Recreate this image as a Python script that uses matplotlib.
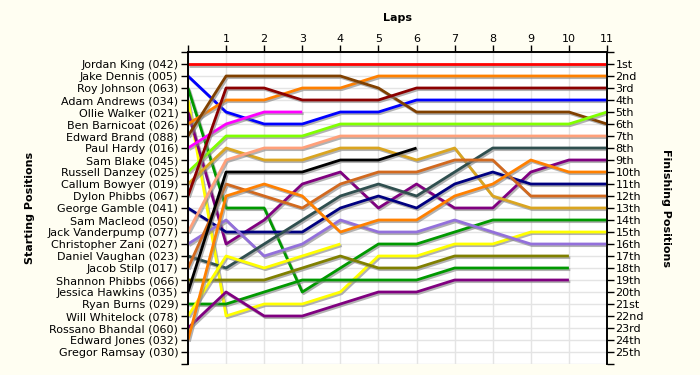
import matplotlib
matplotlib.use('Agg')
import numpy as np
import matplotlib.pyplot as plt
import matplotlib.patheffects as pe

# Grid order (starting positions 1..25)
drivers = ['Jordan King (042)', 'Jake Dennis (005)', 'Roy Johnson (063)', 'Adam Andrews (034)',
           'Ollie Walker (021)', 'Ben Barnicoat (026)', 'Edward Brand (088)', 'Paul Hardy (016)',
           'Sam Blake (045)', 'Russell Danzey (025)', 'Callum Bowyer (019)', 'Dylon Phibbs (067)',
           'George Gamble (041)', 'Sam Macleod (050)', 'Jack Vanderpump (077)', 'Christopher Zani (027)',
           'Daniel Vaughan (023)', 'Jacob Stilp (017)', 'Shannon Phibbs (066)', 'Jessica Hawkins (035)',
           'Ryan Burns (029)', 'Will Whitelock (078)', 'Rossano Bhandal (060)', 'Edward Jones (032)',
           'Gregor Ramsay (030)']

finish_labels = ['1st', '2nd', '3rd', '4th', '5th', '6th', '7th', '8th', '9th', '10th', '11th', '12th',
                 '13th', '14th', '15th', '16th', '17th', '18th', '19th', '20th', '21st', '22nd', '23rd',
                 '24th', '25th']

laps = list(range(0, 12))

# position at each lap (lap 0 = grid), shorter lists = retired / lapped
king = [1, 1, 1, 1, 1, 1, 1, 1, 1, 1, 1, 1]
dennis = [2, 5, 6, 6, 5, 5, 4, 4, 4, 4, 4, 4]
johnson = [3, 13, 13, 20, 18, 16, 16, 15, 14, 14, 14, 14]
andrews = [4, 22, 21, 21, 20, 17, 17, 16, 16, 15, 15, 15]
walker = [5, 16, 14, 11, 10, 13, 11, 13, 13, 10, 9, 9]
barnicoat = [6, 4, 4, 3, 3, 2, 2, 2, 2, 2, 2, 2]
brand = [7, 2, 2, 2, 2, 3, 5, 5, 5, 5, 5, 6]
hardy = [8, 6, 5, 5]
danzey = [10, 7, 7, 7, 6, 6, 6, 6, 6, 6, 6, 5]
bowyer = [11, 8, 9, 9, 8, 8, 9, 8, 12, 13, 13, 13]
dphibbs = [12, 3, 3, 4, 4, 4, 3, 3, 3, 3, 3, 3]
gamble = [13, 15, 15, 15, 13, 12, 13, 11, 10, 11, 11, 11]
vanderpump = [15, 9, 8, 8, 7, 7, 7, 7, 7, 7, 7, 7]
zani = [16, 14, 17, 16, 14, 15, 15, 14, 15, 16, 16, 16]
vaughan = [17, 18, 16, 14, 12, 11, 12, 10, 8, 8, 8, 8]
stilp = [18, 11, 12, 13, 11, 10, 10, 9, 9, 12, 12, 12]
sphibbs = [19, 19, 19, 18, 17, 18, 18, 17, 17, 17, 17]
hawkins = [20, 10, 10, 10, 9, 9, 8]
burns = [21, 21, 20, 19, 19, 19, 19, 18, 18, 18, 18]
whitelock = [22, 17, 18, 17, 16]
bhandal = [23, 20, 22, 22, 21, 20, 20, 19, 19, 19, 19]
jones = [24, 12, 11, 12, 15, 14, 14, 12, 11, 9, 10, 10]

series = [
    (king, '#ff0000'), (dennis, '#0000ff'), (johnson, '#009900'), (andrews, '#ffff00'),
    (walker, '#800080'), (barnicoat, '#ff8000'), (brand, '#804000'), (hardy, '#ff00ff'),
    (danzey, '#80ff00'), (bowyer, '#daa520'), (dphibbs, '#8b0000'), (gamble, '#000080'),
    (vanderpump, '#ffa07a'), (zani, '#9370db'), (vaughan, '#2f4f4f'), (stilp, '#d2691e'),
    (sphibbs, '#808000'), (hawkins, '#000000'), (burns, '#009900'), (whitelock, '#ffff00'),
    (bhandal, '#800080'), (jones, '#ff8000'),
]

bg = '#fffef2'
fig = plt.figure(figsize=(7, 3.75), dpi=100, facecolor=bg)
ax = fig.add_axes([188/700, 1-364/375, (607-188)/700, (364-52)/375])
ax.set_facecolor('white')

shadow = [pe.SimpleLineShadow(offset=(1, -1.2), shadow_color='#808080', alpha=0.6), pe.Normal()]
for pos, col in series:
    ax.plot(laps[:len(pos)], pos, color=col, lw=2.0, solid_capstyle='butt', path_effects=shadow, zorder=3)

ax.set_xlim(0, 11)
ax.set_ylim(26, 0)

# top lap axis
ax.xaxis.tick_top()
ax.set_xticks(laps)
ax.set_xticklabels([''] + [str(i) for i in laps[1:]], fontsize=8)
ax.tick_params(axis='x', length=5, width=1, pad=1, color='black')

# left: starting grid
ax.set_yticks(range(0, 27))
ax.set_yticklabels([''] + drivers + [''], fontsize=8)
ax.tick_params(axis='y', length=5, width=1, pad=2)

# right: finishing positions
ax2 = ax.twinx()
ax2.set_ylim(26, 0)
ax2.set_yticks(range(0, 27))
ax2.set_yticklabels([''] + finish_labels + [''], fontsize=8)
ax2.tick_params(axis='y', length=5, width=1, pad=1)

ax.grid(True, color='#e4e4e4', lw=1, zorder=0)
ax.set_axisbelow(True)
for a in (ax, ax2):
    a.spines['bottom'].set_visible(False)
    for s in ('left', 'right', 'top'):
        a.spines[s].set_linewidth(1.2)

fig.text(397/700, 1-18/375, 'Laps', ha='center', va='center', fontsize=8, fontweight='bold')
fig.text(30/700, 1-208/375, 'Starting Positions', ha='center', va='center', rotation=90,
         fontsize=8, fontweight='bold')
fig.text(666/700, 1-208/375, 'Finishing Positions', ha='center', va='center', rotation=270,
         fontsize=8, fontweight='bold')

fig.savefig('out.png', dpi=100, facecolor=bg)
